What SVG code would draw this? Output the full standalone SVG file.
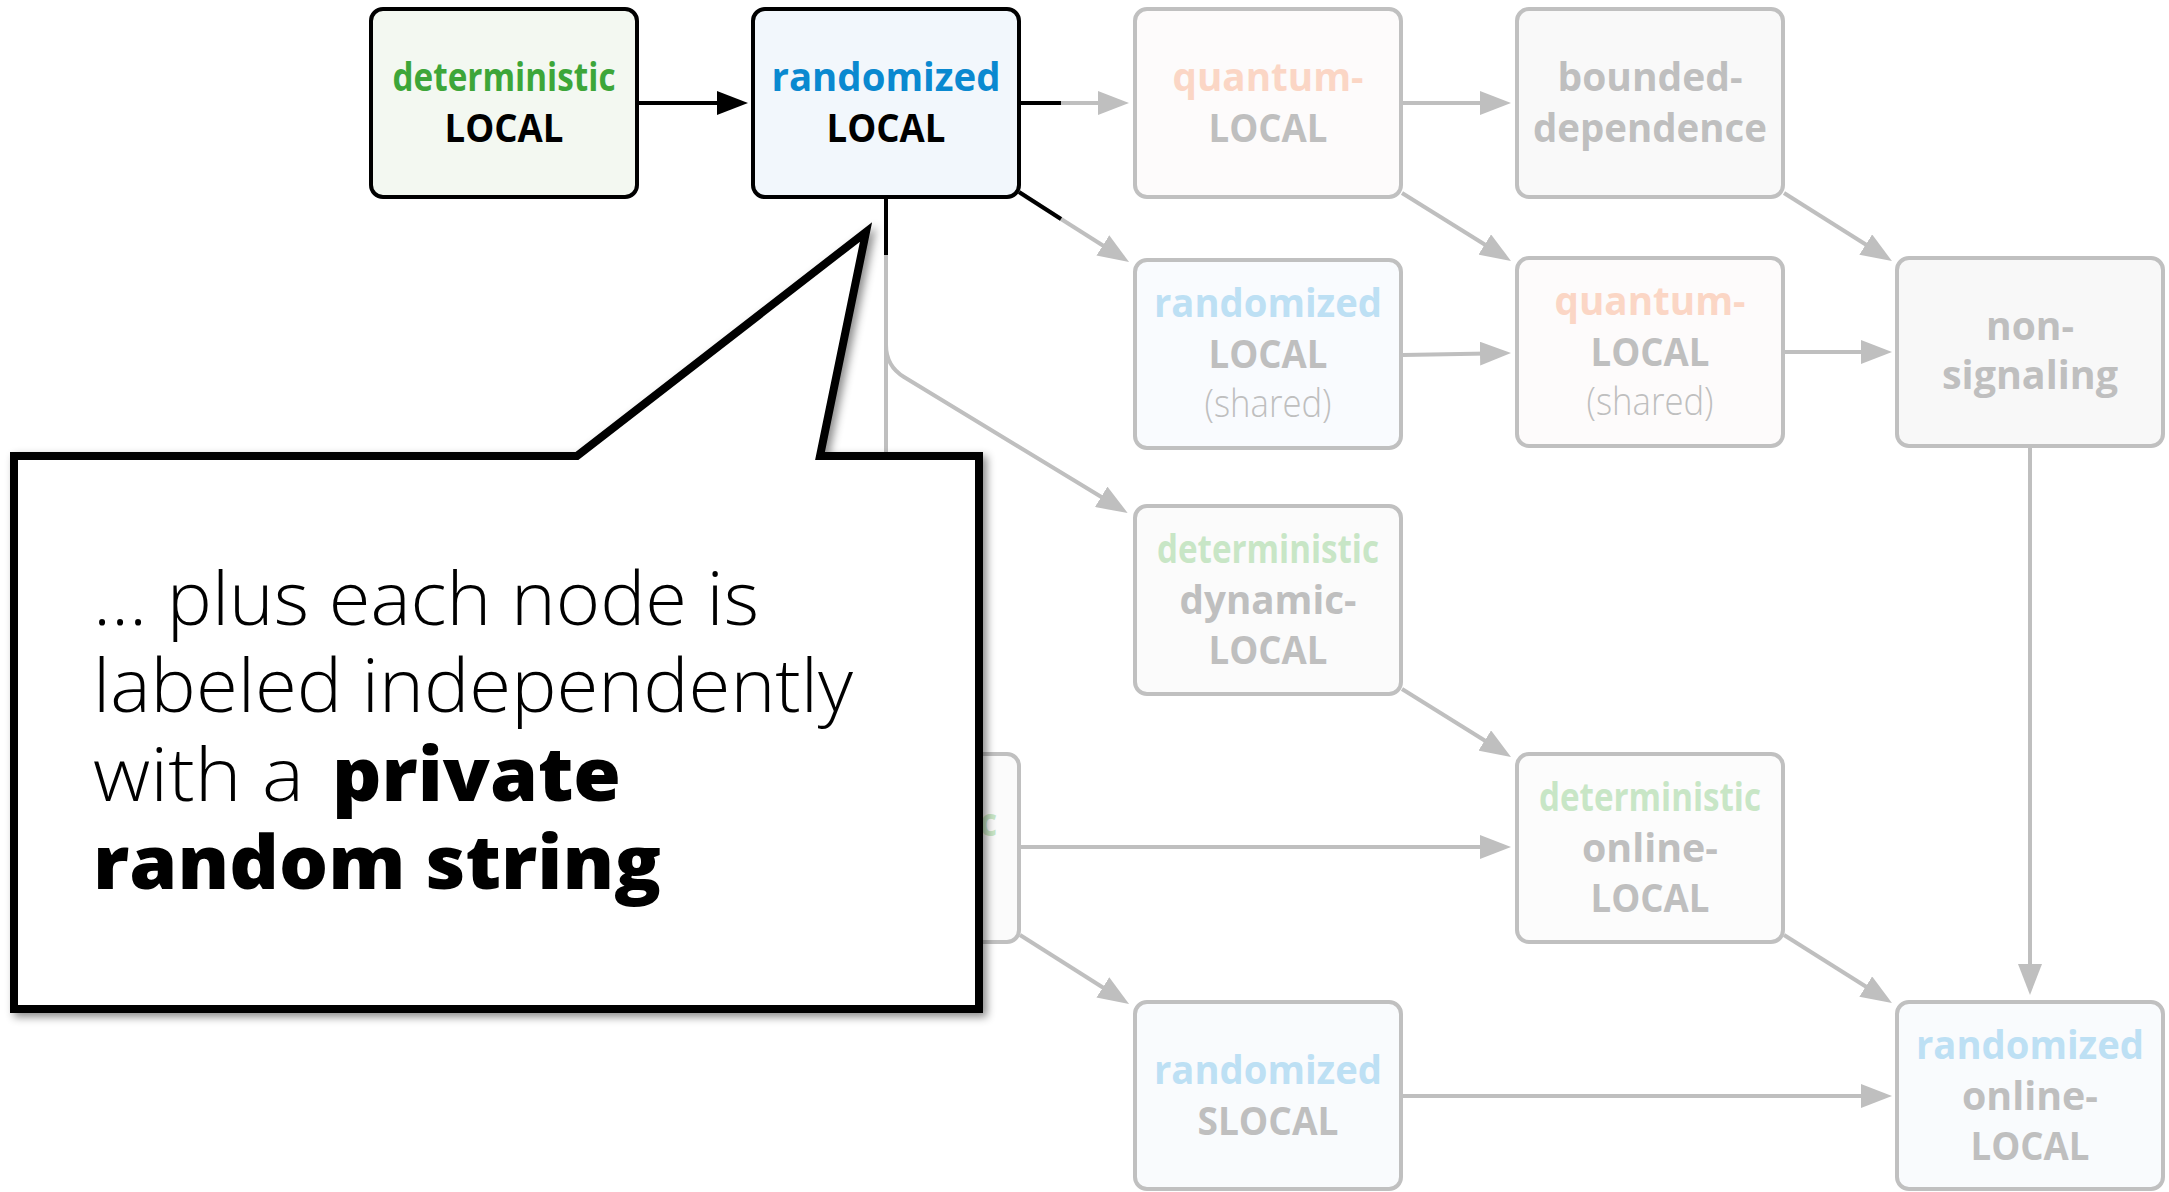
<svg xmlns="http://www.w3.org/2000/svg" width="2169" height="1192" viewBox="0 0 2169 1192">
  <defs>
    <style>
      .box { stroke-width: 4; }
      .on .box { stroke: #000000; }
      .off .box { stroke: #c0c0c0; }
      .lbl { font-family: "Open Sans", "Noto Sans", "Liberation Sans", sans-serif; font-weight: 700; font-size: 39px; text-anchor: middle; }
      .thin { font-family: "Open Sans", "Noto Sans", "Liberation Sans", sans-serif; font-weight: 300; font-size: 38px; text-anchor: middle; }
      .blk { fill: #000000; }
      .gry { fill: #bfbfbf; }
      .grn { fill: #3da639; }
      .blu { fill: #0a89d0; }
      .grn2 { fill: #c8e6c6; }
      .blu2 { fill: #bde0f4; }
      .sal2 { fill: #fbd6c5; }
      .e { fill: none; stroke: #bfbfbf; stroke-width: 4; }
      .e.arr { marker-end: url(#headGray); }
      .k { fill: none; stroke: #000000; stroke-width: 4; }
      .k.arr { marker-end: url(#headBlack); }
      .note { font-family: "Open Sans", "Noto Sans", "Liberation Sans", sans-serif; font-size: 74px; fill: #000000; font-weight: 300; }
      .heavy { font-weight: 800; }
    </style>
    <marker id="headGray" viewBox="0 0 31 24" refX="8" refY="12" markerWidth="31" markerHeight="24" markerUnits="userSpaceOnUse" orient="auto">
      <path d="M0,0 L31,12 L0,24 Z" fill="#bfbfbf"/>
    </marker>
    <marker id="headBlack" viewBox="0 0 31 24" refX="8" refY="12" markerWidth="31" markerHeight="24" markerUnits="userSpaceOnUse" orient="auto">
      <path d="M0,0 L31,12 L0,24 Z" fill="#000000"/>
    </marker>
    <filter id="shadow" x="-5%" y="-5%" width="115%" height="115%">
      <feDropShadow dx="4" dy="4" stdDeviation="4" flood-color="#000000" flood-opacity="0.45"/>
    </filter>
  </defs>

  <rect width="2169" height="1192" fill="#ffffff"/>

  <!-- connectors -->
  <g id="connectors">
    <!-- faded edges -->
    <path class="e arr" d="M1021,103 H1106"/>
    <path class="e arr" d="M1020,193 L1109.6,249.7"/>
    <path class="e arr" d="M886,201 V345 Q886,366 904,377 L1108,501"/>
    <path class="e arr" d="M886,201 V725"/>
    <path class="e arr" d="M1403,103 H1488"/>
    <path class="e arr" d="M1402,193 L1491.5,248.8"/>
    <path class="e arr" d="M1784,193 L1872.5,248.8"/>
    <path class="e arr" d="M1403,355 L1488,353.4"/>
    <path class="e arr" d="M1785,352 H1869"/>
    <path class="e arr" d="M2030,448 V972"/>
    <path class="e arr" d="M1402,689 L1491.5,744.8"/>
    <path class="e arr" d="M1021,847 H1488"/>
    <path class="e arr" d="M1020,935 L1109.6,991.7"/>
    <path class="e arr" d="M1784,935 L1872.5,990.8"/>
    <path class="e arr" d="M1403,1096 H1869"/>
    <!-- active edge and the traversed first part of outgoing edges -->
    <path class="k arr" d="M639,103 H725"/>
    <path class="k" d="M1019,103 H1061"/>
    <path class="k" d="M1019,192 L1061,219"/>
    <path class="k" d="M886,199 V255"/>
  </g>

  <!-- nodes -->
  <g id="det-local" class="on">
    <rect class="box" x="371" y="9" width="266" height="188" rx="12" fill="#f3f8f1"/>
    <text class="lbl grn" x="504" y="91" textLength="223" lengthAdjust="spacingAndGlyphs">deterministic</text>
    <text class="lbl blk" x="504" y="142" textLength="119" lengthAdjust="spacingAndGlyphs">LOCAL</text>
  </g>
  <g id="rand-local" class="on">
    <rect class="box" x="753" y="9" width="266" height="188" rx="12" fill="#f2f7fc"/>
    <text class="lbl blu" x="886" y="91" textLength="229" lengthAdjust="spacingAndGlyphs">randomized</text>
    <text class="lbl blk" x="886" y="142" textLength="119" lengthAdjust="spacingAndGlyphs">LOCAL</text>
  </g>
  <g id="quantum-local" class="off">
    <rect class="box" x="1135" y="9" width="266" height="188" rx="12" fill="#fdfbfb"/>
    <text class="lbl sal2" x="1268" y="91" textLength="191" lengthAdjust="spacingAndGlyphs">quantum-</text>
    <text class="lbl gry" x="1268" y="142" textLength="119" lengthAdjust="spacingAndGlyphs">LOCAL</text>
  </g>
  <g id="bounded-dependence" class="off">
    <rect class="box" x="1517" y="9" width="266" height="188" rx="12" fill="#f9f9f9"/>
    <text class="lbl gry" x="1650" y="91" textLength="185" lengthAdjust="spacingAndGlyphs">bounded-</text>
    <text class="lbl gry" x="1650" y="142" textLength="234" lengthAdjust="spacingAndGlyphs">dependence</text>
  </g>
  <g id="rand-local-shared" class="off">
    <rect class="box" x="1135" y="260" width="266" height="188" rx="12" fill="#f9fbfe"/>
    <text class="lbl blu2" x="1268" y="317" textLength="228" lengthAdjust="spacingAndGlyphs">randomized</text>
    <text class="lbl gry" x="1268" y="368" textLength="119" lengthAdjust="spacingAndGlyphs">LOCAL</text>
    <text class="thin gry" x="1268" y="417" textLength="127" lengthAdjust="spacingAndGlyphs">(shared)</text>
  </g>
  <g id="quantum-local-shared" class="off">
    <rect class="box" x="1517" y="258" width="266" height="188" rx="12" fill="#fdfbfb"/>
    <text class="lbl sal2" x="1650" y="315" textLength="191" lengthAdjust="spacingAndGlyphs">quantum-</text>
    <text class="lbl gry" x="1650" y="366" textLength="119" lengthAdjust="spacingAndGlyphs">LOCAL</text>
    <text class="thin gry" x="1650" y="415" textLength="127" lengthAdjust="spacingAndGlyphs">(shared)</text>
  </g>
  <g id="non-signaling" class="off">
    <rect class="box" x="1897" y="258" width="266" height="188" rx="12" fill="#f8f8f8"/>
    <text class="lbl gry" x="2030" y="340" textLength="88" lengthAdjust="spacingAndGlyphs">non-</text>
    <text class="lbl gry" x="2030" y="389" textLength="176" lengthAdjust="spacingAndGlyphs">signaling</text>
  </g>
  <g id="det-dynamic-local" class="off">
    <rect class="box" x="1135" y="506" width="266" height="188" rx="12" fill="#fbfbfb"/>
    <text class="lbl grn2" x="1268" y="563" textLength="222" lengthAdjust="spacingAndGlyphs">deterministic</text>
    <text class="lbl gry" x="1268" y="614" textLength="177" lengthAdjust="spacingAndGlyphs">dynamic-</text>
    <text class="lbl gry" x="1268" y="664" textLength="119" lengthAdjust="spacingAndGlyphs">LOCAL</text>
  </g>
  <g id="det-slocal" class="off">
    <rect class="box" x="753" y="754" width="266" height="188" rx="12" fill="#fbfbfb"/>
    <text class="lbl grn2" x="886" y="836" textLength="222" lengthAdjust="spacingAndGlyphs">deterministic</text>
  </g>
  <g id="det-online-local" class="off">
    <rect class="box" x="1517" y="754" width="266" height="188" rx="12" fill="#fcfcfc"/>
    <text class="lbl grn2" x="1650" y="811" textLength="222" lengthAdjust="spacingAndGlyphs">deterministic</text>
    <text class="lbl gry" x="1650" y="862" textLength="136" lengthAdjust="spacingAndGlyphs">online-</text>
    <text class="lbl gry" x="1650" y="912" textLength="119" lengthAdjust="spacingAndGlyphs">LOCAL</text>
  </g>
  <g id="rand-slocal" class="off">
    <rect class="box" x="1135" y="1002" width="266" height="187" rx="12" fill="#f9fbfd"/>
    <text class="lbl blu2" x="1268" y="1084" textLength="228" lengthAdjust="spacingAndGlyphs">randomized</text>
    <text class="lbl gry" x="1268" y="1135" textLength="141" lengthAdjust="spacingAndGlyphs">SLOCAL</text>
  </g>
  <g id="rand-online-local" class="off">
    <rect class="box" x="1897" y="1002" width="266" height="187" rx="12" fill="#f9fbfd"/>
    <text class="lbl blu2" x="2030" y="1059" textLength="228" lengthAdjust="spacingAndGlyphs">randomized</text>
    <text class="lbl gry" x="2030" y="1110" textLength="136" lengthAdjust="spacingAndGlyphs">online-</text>
    <text class="lbl gry" x="2030" y="1160" textLength="119" lengthAdjust="spacingAndGlyphs">LOCAL</text>
  </g>

  <!-- speech bubble pointing at the randomized LOCAL node -->
  <g id="callout">
    <polygon points="14,456 577,456 866,232 820,456 979,456 979,1009 14,1009" fill="#ffffff" stroke="#000000" stroke-width="8" stroke-linejoin="miter" stroke-miterlimit="6" filter="url(#shadow)"/>
    <text class="note"><tspan x="93" y="625" textLength="666" lengthAdjust="spacingAndGlyphs">... plus each node is</tspan><tspan x="93" y="712" textLength="760" lengthAdjust="spacingAndGlyphs">labeled independently</tspan><tspan x="93" y="801" textLength="211" lengthAdjust="spacingAndGlyphs">with a</tspan><tspan class="heavy" x="332" y="801" textLength="289" lengthAdjust="spacingAndGlyphs">private</tspan><tspan class="heavy" x="93" y="889" textLength="568" lengthAdjust="spacingAndGlyphs">random string</tspan></text>
  </g>
</svg>
